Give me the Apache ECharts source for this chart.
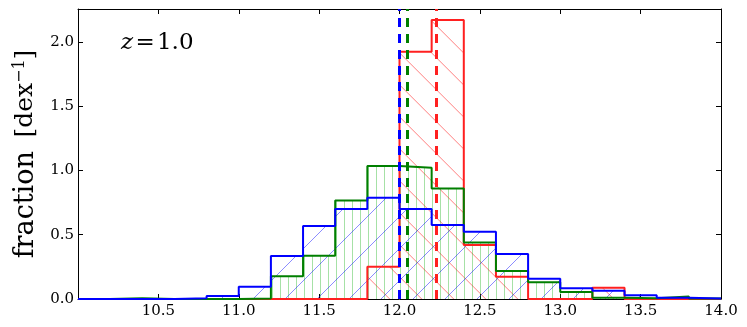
<!DOCTYPE html>
<html>
<head>
<meta charset="utf-8">
<script src="https://cdn.jsdelivr.net/npm/echarts@6/dist/echarts.min.js"></script>
<style>
html, body { margin: 0; padding: 0; background: #fff; }
#chart { width: 747px; height: 327px; }
</style>
</head>
<body>
<div id="chart"></div>
<script>
(function (window, document) {
    'use strict';

    // bin edges of the histograms (log mass, dex)
    var binEdges = [10.0, 10.2, 10.4, 10.6, 10.8, 11.0, 11.2, 11.4, 11.6, 11.8, 12.0,
        12.2, 12.4, 12.6, 12.8, 13.0, 13.2, 13.4, 13.6, 13.8, 14.0];

    // fraction per dex in each bin
    var blueValues = [0, 0, 0, 0.005, 0.023, 0.096, 0.334, 0.568, 0.70, 0.788,
        0.70, 0.575, 0.523, 0.35, 0.158, 0.083, 0.065, 0.029, 0.01, 0.003];
    var greenValues = [0, 0.005, 0, 0, 0, 0.003, 0.176, 0.337, 0.765, 1.034,
        1.02, 0.86, 0.44, 0.218, 0.13, 0.054, 0.01, 0.005, 0.02, 0.004];
    var redValues = [0, 0, 0, 0, 0, 0, 0, 0, 0, 0.25,
        1.923, 2.17, 0.42, 0.173, 0, 0, 0.088, 0, 0, 0];

    // medians (dashed lines)
    var blueMedian = 11.996;
    var greenMedian = 12.051;
    var redMedian = 12.229;

    var xTicks = [10.0, 10.5, 11.0, 11.5, 12.0, 12.5, 13.0, 13.5, 14.0];
    var yTicks = [0.0, 0.5, 1.0, 1.5, 2.0];

    var chartDom = document.getElementById('chart');
    var myChart = echarts.init(chartDom, null, { renderer: 'canvas' });

    function hatch(kind, color, size, phase) {
        var c = document.createElement('canvas');
        c.width = size;
        c.height = size;
        var ctx = c.getContext('2d');
        ctx.strokeStyle = color;
        ctx.lineWidth = 1;
        ctx.beginPath();
        var k;
        if (kind === '|') {
            ctx.moveTo(phase + 0.5, 0);
            ctx.lineTo(phase + 0.5, size);
        } else if (kind === '/') {
            // x + y = phase + n*size
            for (k = -1; k <= 2; k++) {
                var s = phase + k * size;
                ctx.moveTo(s + 1, -1);
                ctx.lineTo(s - size - 1, size + 1);
            }
        } else {
            // x - y = phase + n*size
            for (k = -2; k <= 1; k++) {
                var t = phase + k * size;
                ctx.moveTo(t - 1, -1);
                ctx.lineTo(t + size + 1, size + 1);
            }
        }
        ctx.stroke();
        return { image: c, repeat: 'repeat' };
    }

    function stepData(values) {
        var pts = [[binEdges[0], 0]];
        values.forEach(function (v, i) {
            pts.push([binEdges[i], v]);
        });
        var last = binEdges[binEdges.length - 1];
        pts.push([last, values[values.length - 1]]);
        pts.push([last, 0]);
        return pts;
    }

    function histSeries(name, values, lineColor, lineWidth, fill, median) {
        return {
            name: name,
            type: 'line',
            step: 'end',
            data: stepData(values),
            symbol: 'none',
            silent: true,
            lineStyle: { color: lineColor, width: lineWidth },
            areaStyle: { color: fill, opacity: 1 },
            markLine: {
                silent: true,
                symbol: ['none', 'none'],
                label: { show: false },
                lineStyle: { color: lineColor, type: [9, 7], width: 3, opacity: 1 },
                data: [{ xAxis: median }]
            }
        };
    }

    var tickFont = { color: '#000', fontFamily: 'DejaVu Serif', fontSize: 15 };

    function fmt(v) {
        return v.toFixed(1);
    }

    var frameLine = { show: true, onZero: false, lineStyle: { color: '#000', width: 1 } };
    var tickStyle = { show: true, inside: true, length: 5, lineStyle: { color: '#000', width: 1 } };

    var option = {
        animation: false,
        backgroundColor: '#fff',
        grid: { left: 78, right: 26, top: 9, bottom: 28 },
        xAxis: [{
            type: 'value',
            min: xTicks[0],
            max: xTicks[xTicks.length - 1],
            interval: 0.5,
            position: 'bottom',
            axisLine: frameLine,
            axisTick: tickStyle,
            splitLine: { show: false },
            axisLabel: Object.assign({ margin: 5, showMinLabel: false, formatter: fmt }, tickFont)
        }, {
            type: 'value',
            min: xTicks[0],
            max: xTicks[xTicks.length - 1],
            interval: 0.5,
            position: 'top',
            axisLine: frameLine,
            axisTick: tickStyle,
            splitLine: { show: false },
            axisLabel: { show: false }
        }],
        yAxis: [{
            type: 'value',
            min: yTicks[0],
            max: 2.255,
            interval: 0.5,
            position: 'left',
            axisLine: frameLine,
            axisTick: tickStyle,
            splitLine: { show: false },
            axisLabel: Object.assign({
                margin: 4,
                formatter: function (v) {
                    return yTicks.indexOf(v) >= 0 ? fmt(v) : '';
                }
            }, tickFont),
            name: '{a|fraction\u2002}{b|[dex}{s|\u22121}{b|]}',
            nameLocation: 'middle',
            nameRotate: 90,
            nameGap: 33,
            nameTextStyle: {
                color: '#000',
                rich: {
                    a: { fontFamily: 'DejaVu Serif', fontSize: 27, color: '#000' },
                    b: { fontFamily: 'DejaVu Serif', fontSize: 25, color: '#000' },
                    s: { fontFamily: 'DejaVu Serif', fontSize: 16, color: '#000', verticalAlign: 'top' }
                }
            }
        }, {
            type: 'value',
            min: yTicks[0],
            max: 2.255,
            interval: 0.5,
            position: 'right',
            axisLine: frameLine,
            axisTick: tickStyle,
            splitLine: { show: false },
            axisLabel: { show: false }
        }],
        graphic: [{
            type: 'text',
            left: 121,
            top: 32,
            silent: true,
            style: {
                text: '{i|z}{n|\u200a=\u200a1.0}',
                rich: {
                    i: { fontFamily: 'DejaVu Serif', fontStyle: 'italic', fontSize: 23, fill: '#000' },
                    n: { fontFamily: 'DejaVu Serif', fontSize: 23, fill: '#000' }
                }
            }
        }],
        series: [
            histSeries('red', redValues, '#ff2020', 2, hatch('\\', 'rgba(255,0,0,0.5)', 32, 26.7), redMedian),
            histSeries('green', greenValues, '#007f00', 2, hatch('|', 'rgba(0,170,0,0.35)', 8, 0), greenMedian),
            histSeries('blue', blueValues, '#0000ff', 2, hatch('/', 'rgba(0,0,255,0.45)', 32, 8), blueMedian)
        ]
    };

    myChart.setOption(option);
})(window, document);
</script>
</body>
</html>
